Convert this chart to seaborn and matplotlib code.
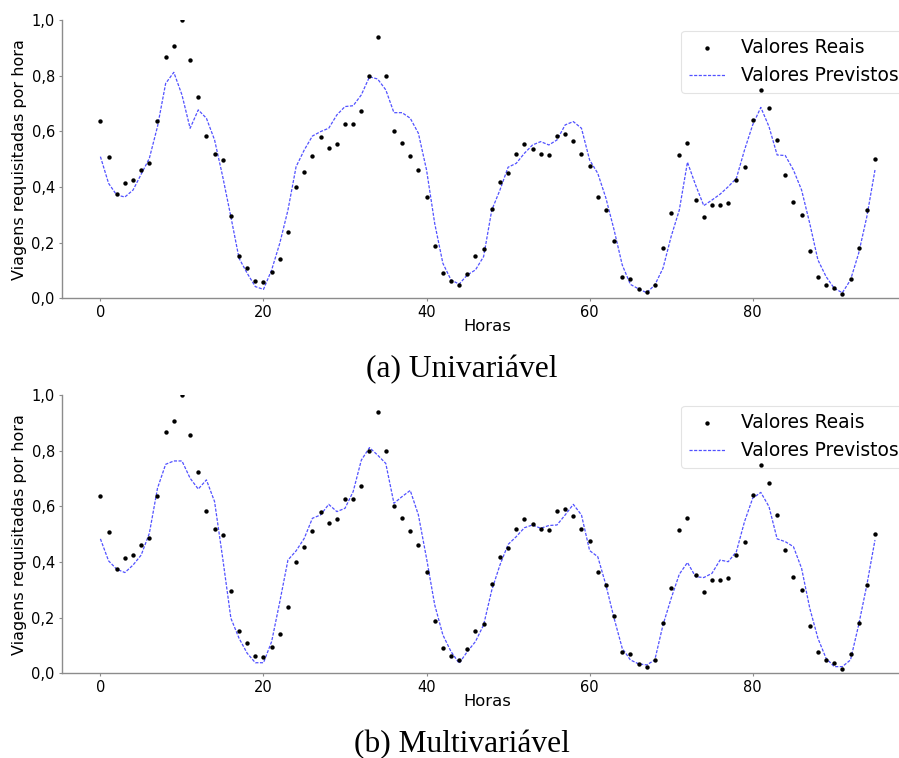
import numpy as np
import pandas as pd
import matplotlib
matplotlib.use("Agg")
import matplotlib.pyplot as plt
from matplotlib.ticker import FuncFormatter
import seaborn as sns

horas = list(range(96))

valores_reais = [
    0.638, 0.509, 0.376, 0.413, 0.425, 0.461, 0.486, 0.638, 0.866, 0.907,
    1.000, 0.856, 0.725, 0.584, 0.520, 0.496, 0.296, 0.151, 0.108, 0.061,
    0.057, 0.095, 0.141, 0.240, 0.400, 0.455, 0.513, 0.580, 0.540, 0.556,
    0.628, 0.625, 0.673, 0.800, 0.939, 0.800, 0.601, 0.558, 0.510, 0.461,
    0.364, 0.188, 0.091, 0.063, 0.048, 0.086, 0.152, 0.177, 0.320, 0.418,
    0.451, 0.519, 0.556, 0.538, 0.519, 0.515, 0.582, 0.592, 0.564, 0.519,
    0.477, 0.364, 0.317, 0.207, 0.078, 0.069, 0.032, 0.024, 0.046, 0.181,
    0.305, 0.516, 0.558, 0.352, 0.292, 0.337, 0.337, 0.344, 0.426, 0.472,
    0.641, 0.750, 0.683, 0.568, 0.443, 0.346, 0.298, 0.171, 0.078, 0.046,
    0.036, 0.017, 0.068, 0.181, 0.317, 0.502,
]

previstos_univariavel = [
    0.509, 0.413, 0.371, 0.364, 0.389, 0.446, 0.503, 0.617, 0.772, 0.812,
    0.731, 0.611, 0.677, 0.647, 0.569, 0.437, 0.293, 0.144, 0.090, 0.042,
    0.032, 0.102, 0.198, 0.317, 0.473, 0.533, 0.583, 0.599, 0.611, 0.659,
    0.689, 0.692, 0.731, 0.796, 0.788, 0.749, 0.667, 0.667, 0.647, 0.593,
    0.461, 0.269, 0.126, 0.066, 0.051, 0.084, 0.102, 0.150, 0.317, 0.389,
    0.471, 0.485, 0.521, 0.551, 0.563, 0.551, 0.569, 0.623, 0.635, 0.611,
    0.497, 0.449, 0.360, 0.246, 0.120, 0.050, 0.034, 0.020, 0.048, 0.108,
    0.222, 0.317, 0.489, 0.407, 0.333, 0.353, 0.374, 0.401, 0.431, 0.533,
    0.623, 0.686, 0.617, 0.515, 0.513, 0.461, 0.389, 0.269, 0.138, 0.078,
    0.036, 0.020, 0.066, 0.162, 0.293, 0.461,
]

previstos_multivariavel = [
    0.483, 0.404, 0.374, 0.362, 0.389, 0.425, 0.503, 0.665, 0.751, 0.763,
    0.763, 0.701, 0.662, 0.695, 0.617, 0.413, 0.198, 0.126, 0.072, 0.038,
    0.038, 0.114, 0.257, 0.407, 0.440, 0.485, 0.557, 0.569, 0.607, 0.581,
    0.593, 0.653, 0.766, 0.811, 0.784, 0.754, 0.611, 0.635, 0.657, 0.569,
    0.413, 0.246, 0.138, 0.078, 0.036, 0.078, 0.114, 0.174, 0.299, 0.389,
    0.463, 0.491, 0.523, 0.533, 0.521, 0.531, 0.533, 0.569, 0.607, 0.569,
    0.441, 0.419, 0.317, 0.198, 0.090, 0.048, 0.034, 0.030, 0.048, 0.174,
    0.269, 0.356, 0.398, 0.347, 0.344, 0.359, 0.407, 0.401, 0.437, 0.545,
    0.629, 0.650, 0.599, 0.483, 0.473, 0.455, 0.377, 0.234, 0.126, 0.054,
    0.024, 0.024, 0.048, 0.174, 0.317, 0.479,
]

legendas = ["Valores Reais", "Valores Previstos"]
legenda_eixo_x = "Horas"
legenda_eixo_y = "Viagens requisitadas por hora"
titulos = ["(a) Univariável", "(b) Multivariável"]
xticks = [0, 20, 40, 60, 80]
yticks = [0.0, 0.2, 0.4, 0.6, 0.8, 1.0]

sns.set_theme(style="white")
plt.rcParams["font.family"] = ["DejaVu Sans"]
plt.rcParams["axes.edgecolor"] = "#8c8c8c"
plt.rcParams["axes.linewidth"] = 1.0
plt.rcParams["text.color"] = "black"
plt.rcParams["axes.labelcolor"] = "black"
plt.rcParams["xtick.labelcolor"] = "black"
plt.rcParams["ytick.labelcolor"] = "black"

W, H = 899, 758
fig = plt.figure(figsize=(W / 100, H / 100), dpi=100)

ax_left_px, ax_right_px = 61.7, 913.7
ax_h_px = 278.3
tops_px = [20.0, 395.0]

previsoes = [previstos_univariavel, previstos_multivariavel]
caption_baselines = [377, 752]

for k in range(2):
    top = tops_px[k]
    ax = fig.add_axes([ax_left_px / W, 1 - (top + ax_h_px) / H,
                       (ax_right_px - ax_left_px) / W, ax_h_px / H])
    df = pd.DataFrame({"hora": horas, "real": valores_reais, "prev": previsoes[k]})
    sns.scatterplot(data=df, x="hora", y="real", ax=ax, color="black", s=10,
                    linewidth=0, label=legendas[0], zorder=6)
    sns.lineplot(data=df, x="hora", y="prev", ax=ax, color="#3333ff",
                 linewidth=0.9, linestyle=(0, (2.5, 1.2)), alpha=0.85,
                 label=legendas[1], zorder=2)
    ax.set_xlim(-4.75, 99.75)
    ax.set_ylim(0, 1.0)
    ax.set_xticks(xticks)
    ax.set_yticks(yticks)
    ax.yaxis.set_major_formatter(FuncFormatter(lambda v, p: f"{v:.1f}".replace(".", ",")))
    ax.tick_params(axis="both", which="major", length=2, width=0.8,
                   color="#8c8c8c", labelcolor="black", labelsize=10.5, pad=3,
                   left=True, bottom=True)
    for s in ["top", "right"]:
        ax.spines[s].set_visible(False)
    ax.set_xlabel(legenda_eixo_x, fontsize=11.8, color="black")
    ax.set_ylabel(legenda_eixo_y, fontsize=11.5, color="black")
    ax.xaxis.set_label_coords(0.5, -0.075)
    ax.yaxis.set_label_coords(-0.041, 0.5)
    leg = ax.legend(loc="upper left", bbox_to_anchor=(0.727, 0.962),
                    borderaxespad=0, fontsize=13.4, frameon=True, markerscale=1.0)
    leg.set_zorder(4)
    leg.get_frame().set_edgecolor("#dddddd")
    leg.get_frame().set_linewidth(0.8)
    for t in leg.get_texts():
        t.set_color("black")
    fig.text(462 / W, 1 - caption_baselines[k] / H, titulos[k], ha="center",
             va="baseline", family=["Liberation Serif"], fontsize=22.6,
             color="black")

fig.savefig("out.png", dpi=100)
